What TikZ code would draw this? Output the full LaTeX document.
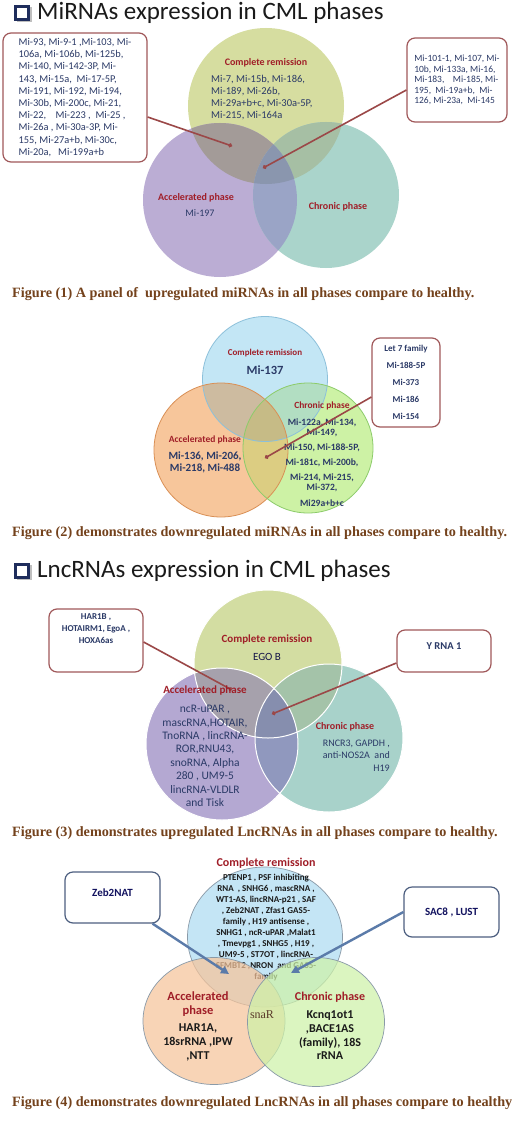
\documentclass[tikz,border=0pt]{standalone}
\usepackage{fontspec}
\setmainfont{Carlito}
\newfontfamily\capfont{Liberation Serif}
\usetikzlibrary{shapes.geometric,arrows.meta}
\newcommand\myfs[2]{\fontsize{#1}{#2}\selectfont}
\definecolor{lblred}{HTML}{A01E28}
\definecolor{txtblue}{HTML}{2B3A67}
\definecolor{boxred}{HTML}{A0585A}
\definecolor{linered}{HTML}{9B4848}
\definecolor{capbrown}{HTML}{74421C}
\definecolor{navy}{HTML}{1F2D5C}
\definecolor{aOne}{HTML}{D6DDA0}
\definecolor{aTwo}{HTML}{BBADD4}
\definecolor{aThree}{HTML}{AAD4CB}
\definecolor{aOneTwo}{HTML}{A39B98}
\definecolor{aOneThree}{HTML}{A6BFA4}
\definecolor{aTwoThree}{HTML}{9AA4C6}
\definecolor{aAll}{HTML}{8A96AE}
\definecolor{bOne}{HTML}{C3E6F5}
\definecolor{bOneD}{HTML}{8CC0DA}
\definecolor{bTwo}{HTML}{F7C69B}
\definecolor{bTwoD}{HTML}{D98F55}
\definecolor{bThree}{HTML}{CDF2A5}
\definecolor{bThreeD}{HTML}{8CCB6A}
\definecolor{bOneTwo}{HTML}{CDBBA0}
\definecolor{bOneThree}{HTML}{B2DEC2}
\definecolor{bTwoThree}{HTML}{DCCD82}
\definecolor{bAll}{HTML}{C6BB86}
\definecolor{cOne}{HTML}{D3DDA2}
\definecolor{cTwo}{HTML}{B4A8D2}
\definecolor{cThree}{HTML}{A8D2CA}
\definecolor{cOneTwo}{HTML}{A6A1AC}
\definecolor{cOneThree}{HTML}{A4C3A9}
\definecolor{cTwoThree}{HTML}{9098BE}
\definecolor{cAll}{HTML}{868EAE}
\definecolor{dOne}{HTML}{C4E5F5}
\definecolor{dTwo}{HTML}{F6C49A}
\definecolor{dThree}{HTML}{CEF2A8}
\definecolor{dLine}{HTML}{8A9AA8}
\definecolor{boxblue}{HTML}{4D5F80}
\definecolor{arrowblue}{HTML}{5B7BA9}
\definecolor{darktxt}{HTML}{1A1A1A}
\definecolor{snacol}{HTML}{5A3A2A}
\tikzset{
  circ/.style={circle, inner sep=0pt, outer sep=0pt},
  ell/.style={ellipse, inner sep=0pt, outer sep=0pt},
  lab/.style={text=lblred, inner sep=0pt, font=\bfseries\myfs{#1}{#1}},
  rbox/.style={draw=boxred, line width=1.2pt, rounded corners=8pt, fill=white, inner sep=0pt},
  bbox/.style={draw=boxblue, line width=1.2pt, rounded corners=8pt, fill=white, inner sep=0pt},
  con/.style={draw=linered, line width=1.6pt, -{Circle[length=4pt]}},
  arr/.style={draw=arrowblue, line width=2.4pt, -{Triangle[length=8pt, width=8pt]}},
  ttl/.style={anchor=west, inner sep=0pt, text=darktxt, font=\myfs{25}{25}},
  chk/.style={draw=navy, line width=2.4pt, minimum size=13pt, inner sep=0pt},
  capt/.style={anchor=west, inner sep=0pt, text=capbrown, font=\capfont\bfseries\myfs{14.2}{16}},
}
\begin{document}
\begin{tikzpicture}[x=1pt,y=-1pt]
\useasboundingbox (0,0) rectangle (520,1121);
\fill[white] (0,0) rectangle (520,1121);

% ---------- Title 1
\fill[gray!50] (17,7) rectangle (32,22);
\node[chk, fill=white] (chk1) at (22,13) {};
\node[ttl] (title1) at (37,13) {MiRNAs expression in CML phases};

% ---------- Panel 1
\node[circ, fill=aOne, minimum size=156pt] (p1cr) at (266,106) {};
\node[circ, fill=aTwo, minimum size=154pt] (p1ap) at (220,200) {};
\node[circ, fill=aThree, minimum size=146pt] (p1cp) at (326,195) {};
\begin{scope}\clip (p1cr.center) circle[radius=78pt]; \fill[aOneTwo] (p1ap.center) circle[radius=77pt];\end{scope}
\begin{scope}\clip (p1cr.center) circle[radius=78pt]; \fill[aOneThree] (p1cp.center) circle[radius=73pt];\end{scope}
\begin{scope}\clip (p1ap.center) circle[radius=77pt]; \fill[aTwoThree] (p1cp.center) circle[radius=73pt];\end{scope}
\begin{scope}\clip (p1cr.center) circle[radius=78pt]; \clip (p1ap.center) circle[radius=77pt]; \fill[aAll] (p1cp.center) circle[radius=73pt];\end{scope}
\node[lab=10] (p1crl) at (266,63) {Complete remission};
\node[anchor=west, align=left, inner sep=0pt, text=txtblue, font=\myfs{10.5}{11.7}] (p1crt) at (211,97.5)
  {Mi-7, Mi-15b, Mi-186,\\Mi-189, Mi-26b,\\Mi-29a+b+c, Mi-30a-5P,\\Mi-215, Mi-164a};
\node[lab=10] (p1apl) at (196,198) {Accelerated phase};
\node[inner sep=0pt, text=txtblue, font=\myfs{10}{12}] (p1apt) at (200,213) {Mi-197};
\node[lab=10] (p1cpl) at (338,207) {Chronic phase};

\node[rbox, minimum width=144pt, minimum height=129pt, align=left, text=txtblue, font=\myfs{10.4}{12.2}] (p1bl) at (75,97.5)
  {Mi-93, Mi-9-1 ,Mi-103, Mi-\\106a, Mi-106b, Mi-125b,\\Mi-140, Mi-142-3P, Mi-\\143, Mi-15a,\ \ Mi-17-5P,\\Mi-191, Mi-192, Mi-194,\\Mi-30b, Mi-200c, Mi-21,\\Mi-22,\ \ \ \ Mi-223 ,\ \ Mi-25 ,\\Mi-26a , Mi-30a-3P, Mi-\\155, Mi-27a+b, Mi-30c,\\Mi-20a,\ \ \ Mi-199a+b};
\node[rbox, minimum width=100pt, minimum height=84pt, align=left, text=txtblue, font=\myfs{9.5}{10.4}] (p1br) at (457,80)
  {Mi-101-1, Mi-107, Mi-\\10b, Mi-133a, Mi-16,\\Mi-183,\ \ \ \ Mi-185, Mi-\\195,\ \ Mi-19a+b,\ \ Mi-\\126, Mi-23a,\ \ Mi-145};
\coordinate (p1e1) at (232,146);
\coordinate (p1e2) at (263,168);
\draw[con] ([yshift=-19.5pt]p1bl.east) -- (p1e1);
\draw[con] ([yshift=-10pt]p1br.west) -- (p1e2);

\node[capt] (cap1) at (12,294) {Figure (1) A panel of\ \ upregulated miRNAs in all phases compare to healthy.};

% ---------- Panel 2
\node[circ, fill=bOne, minimum size=125pt] (p2cr) at (265,379) {};
\node[circ, fill=bTwo, minimum size=134pt] (p2ap) at (221,450) {};
\node[circ, fill=bThree, minimum size=130pt] (p2cp) at (308,448) {};
\begin{scope}\clip (p2cr.center) circle[radius=62.5pt]; \fill[bOneTwo] (p2ap.center) circle[radius=67pt];\end{scope}
\begin{scope}\clip (p2cr.center) circle[radius=62.5pt]; \fill[bOneThree] (p2cp.center) circle[radius=65pt];\end{scope}
\begin{scope}\clip (p2ap.center) circle[radius=67pt]; \fill[bTwoThree] (p2cp.center) circle[radius=65pt];\end{scope}
\begin{scope}\clip (p2cr.center) circle[radius=62.5pt]; \clip (p2ap.center) circle[radius=67pt]; \fill[bAll] (p2cp.center) circle[radius=65pt];\end{scope}
\draw[bOneD, line width=0.8pt] (p2cr.center) circle[radius=62.5pt];
\draw[bTwoD, line width=0.8pt] (p2ap.center) circle[radius=67pt];
\draw[bThreeD, line width=0.8pt] (p2cp.center) circle[radius=65pt];
\node[lab=9] (p2crl) at (265,353) {Complete remission};
\node[inner sep=0pt, text=txtblue, font=\bfseries\myfs{12.5}{13}] (p2crt) at (265,370) {Mi-137};
\node[lab=9.5] (p2apl) at (205,440) {Accelerated phase};
\node[align=center, inner sep=0pt, text=txtblue, font=\bfseries\myfs{11}{11.5}] (p2apt) at (205,462.5) {Mi-136, Mi-206,\\Mi-218, Mi-488};
\node[lab=9.5] (p2cpl) at (322,406) {Chronic phase};
\node[align=center, inner sep=0pt, text=txtblue, font=\bfseries\myfs{9.6}{10}] (p2cpt) at (322,462.5)
  {Mi-122a, Mi-134,\\Mi-149,\\[5.5pt]Mi-150, Mi-188-5P,\\[5pt]Mi-181c, Mi-200b,\\[5pt]Mi-214, Mi-215,\\Mi-372,\\[6pt]Mi29a+b+c};
\node[rbox, minimum width=68pt, minimum height=89pt, align=center, text=txtblue, font=\bfseries\myfs{9}{17}] (p2br) at (406,382.5)
  {Let 7 family\\Mi-188-5P\\Mi-373\\Mi-186\\Mi-154};
\coordinate (p2e) at (265,458);
\draw[con] ([yshift=-14.5pt]p2br.west) -- (p2e);

\node[capt] (cap2) at (12,533) {Figure (2) demonstrates downregulated miRNAs in all phases compare to healthy.};

% ---------- Title 2
\fill[gray!50] (17,565) rectangle (32,580);
\node[chk, fill=white] (chk2) at (22,571) {};
\node[ttl] (title2) at (37,571) {LncRNAs expression in CML phases};

% ---------- Panel 3
\node[circ, fill=cOne, minimum size=148pt] (p3cr) at (268,664) {};
\node[circ, fill=cTwo, minimum size=152pt] (p3ap) at (222,744) {};
\node[circ, fill=cThree, minimum size=148pt] (p3cp) at (329,738) {};
\begin{scope}\clip (p3cr.center) circle[radius=74pt]; \fill[cOneTwo] (p3ap.center) circle[radius=76pt];\end{scope}
\begin{scope}\clip (p3cr.center) circle[radius=74pt]; \fill[cOneThree] (p3cp.center) circle[radius=74pt];\end{scope}
\begin{scope}\clip (p3ap.center) circle[radius=76pt]; \fill[cTwoThree] (p3cp.center) circle[radius=74pt];\end{scope}
\begin{scope}\clip (p3cr.center) circle[radius=74pt]; \clip (p3ap.center) circle[radius=76pt]; \fill[cAll] (p3cp.center) circle[radius=74pt];\end{scope}
\draw[white, line width=1pt] (p3cr.center) circle[radius=74pt];
\draw[white, line width=1pt] (p3ap.center) circle[radius=76pt];
\draw[white, line width=1pt] (p3cp.center) circle[radius=74pt];
\node[lab=11] (p3crl) at (267,639) {Complete remission};
\node[inner sep=0pt, text=darktxt!80!blue, font=\myfs{11}{12}] (p3crt) at (267,657) {EGO B};
\node[align=center, inner sep=0pt, text=txtblue, font=\myfs{11.5}{13.4}] (p3apt) at (205,756)
  {ncR-uPAR ,\\mascRNA,HOTAIR,\\TnoRNA , lincRNA-\\ROR,RNU43,\\snoRNA, Alpha\\280 , UM9-5\\lincRNA-VLDLR\\and Tisk};
\node[lab=10] (p3cpl) at (345,727) {Chronic phase};
\node[anchor=east, align=right, inner sep=0pt, text=txtblue, font=\myfs{10}{12.5}] (p3cpt) at (390,755.5)
  {RNCR3, GAPDH ,\\anti-NOS2A\ \ and\\H19};
\node[rbox, minimum width=94pt, minimum height=63pt, align=center, text=txtblue, font=\bfseries\myfs{9}{12}] (p3bl) at (96,640.5)
  {HAR1B ,\\HOTAIRM1, EgoA ,\\HOXA6as\\[12pt]};
\node[rbox, minimum width=94pt, minimum height=42pt, text=txtblue, font=\bfseries\myfs{10.5}{12}] (p3br) at (444,651) {Y RNA 1\rule[-9pt]{0pt}{1pt}};
\coordinate (p3e1) at (232,690);
\coordinate (p3e2) at (272,714);
\draw[con] ([yshift=-1.5pt]p3bl.east) -- (p3e1);
\draw[con] ([yshift=-12pt]p3br.west) -- (p3e2);
\node[lab=11] (p3apl) at (205,690) {Accelerated phase};

\node[capt] (cap3) at (12,833) {Figure (3) demonstrates upregulated LncRNAs in all phases compare to healthy.};

% ---------- Panel 4
\node[ell, fill=dOne, draw=dLine, line width=0.7pt, minimum width=155pt, minimum height=140pt] (p4cr) at (265,937) {};
\node[align=center, inner sep=0pt, text=darktxt, font=\bfseries\myfs{9}{11}] (p4crt) at (266,927.5)
  {PTENP1 , PSF inhibiting\\RNA\ \ , SNHG6 , mascRNA ,\\WT1-AS, lincRNA-p21 , SAF\\, Zeb2NAT , Zfas1 GAS5-\\family , H19 antisense ,\\SNHG1 , ncR-uPAR ,Malat1\\, Tmevpg1 , SNHG5 , H19 ,\\UM9-5 , ST7OT , lincRNA-\\SFMBT2 ,NRON\ \ and GAS5-\\family};
\node[ell, fill=dTwo, fill opacity=0.72, draw=dLine, line width=0.7pt, minimum width=142pt, minimum height=127pt] (p4ap) at (214,1021) {};
\node[ell, fill=dThree, fill opacity=0.72, draw=dLine, line width=0.7pt, minimum width=137pt, minimum height=129pt] (p4cp) at (316,1022) {};
\node[lab=12] (p4crl) at (266,863) {Complete remission};
\node[align=center, inner sep=0pt, text=lblred, font=\bfseries\myfs{12.5}{14}] (p4apl) at (198,1004) {Accelerated\\phase};
\node[align=center, inner sep=0pt, text=darktxt, font=\bfseries\myfs{12}{14}] (p4apt) at (198,1042) {HAR1A,\\18srRNA ,IPW\\,NTT};
\node[inner sep=0pt, text=snacol, font=\capfont\myfs{12}{12}] (p4sn) at (262,1015) {snaR};
\node[lab=12] (p4cpl) at (330,997) {Chronic phase};
\node[align=center, inner sep=0pt, text=darktxt, font=\bfseries\myfs{12}{13.7}] (p4cpt) at (330,1035.5) {Kcnq1ot1\\,BACE1AS\\(family), 18S\\rRNA};
\node[bbox, minimum width=95pt, minimum height=51pt, text=darktxt!70!blue, font=\bfseries\myfs{11}{12}] (p4bl) at (112.5,897.5) {Zeb2NAT\rule[-9pt]{0pt}{1pt}};
\node[bbox, minimum width=95pt, minimum height=50pt, text=darktxt!70!blue, font=\bfseries\myfs{11}{12}] (p4br) at (451.5,912) {SAC8 , LUST};
\coordinate (p4e1) at (229,974);
\coordinate (p4e2) at (291,973);
\draw[arr] ([xshift=40pt]p4bl.south) -- (p4e1);
\draw[arr] (p4br.west) -- (p4e2);

\node[capt] (cap4) at (12,1103) {Figure (4) demonstrates downregulated LncRNAs in all phases compare to healthy};
\end{tikzpicture}
\end{document}
